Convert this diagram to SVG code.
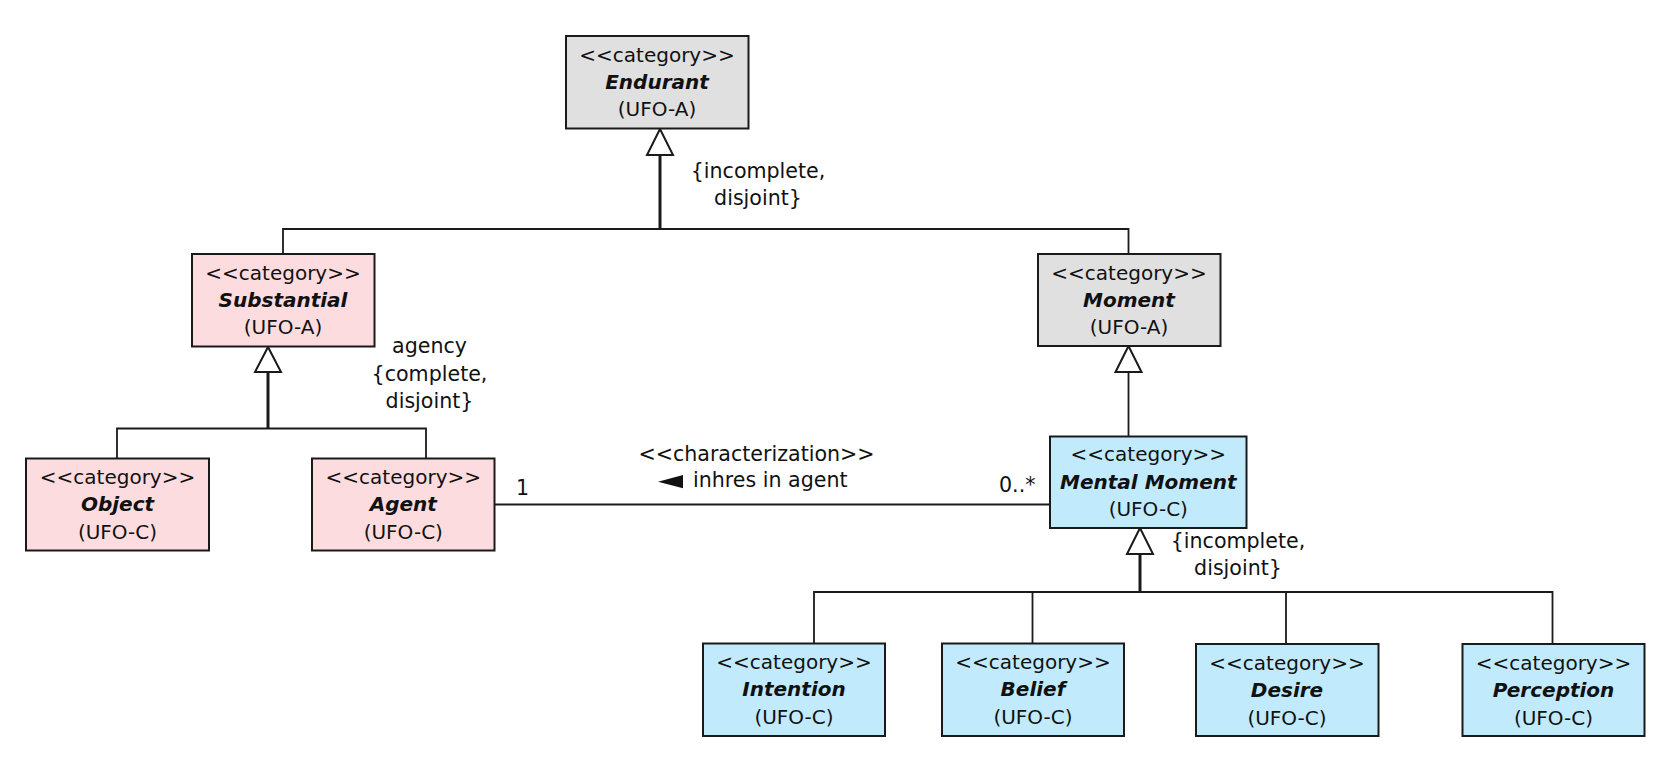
<svg xmlns="http://www.w3.org/2000/svg" width="1666" height="776" viewBox="0 0 1666 776">
<style>
  text { font-family: "DejaVu Sans", "Liberation Sans", sans-serif; font-size: 20px; fill: #111; }
  .c { text-anchor: middle; }
  .name { font-weight: bold; font-style: italic; }
  .lbl { font-size: 20.6px; }
  .box { stroke: #1a1a1a; stroke-width: 2; }
  .gray { fill: #e0e0e0; }
  .pink { fill: #fddce0; }
  .blue { fill: #c1ebfd; }
  .thin { stroke: #1a1a1a; stroke-width: 1.8; fill: none; }
  .thick { stroke: #1a1a1a; stroke-width: 3; fill: none; }
  .gen { fill: #ffffff; stroke: #1a1a1a; stroke-width: 2; stroke-linejoin: miter; }
</style>
<rect x="0" y="0" width="1666" height="776" fill="#ffffff"/>

<g id="connectors">
  <!-- Endurant generalization set -->
  <polyline class="thin" points="283,254 283,229 1128.5,229 1128.5,254"/>
  <line class="thick" x1="660" y1="155" x2="660" y2="229"/>
  <polygon class="gen" points="660,129 647,155 673,155"/>
  <!-- Substantial generalization set -->
  <polyline class="thin" points="117,458 117,428.5 426,428.5 426,458"/>
  <line class="thick" x1="268" y1="372" x2="268" y2="428.5"/>
  <polygon class="gen" points="268,347 255,372 281,372"/>
  <!-- Moment -> Mental Moment -->
  <line class="thin" x1="1128.5" y1="372" x2="1128.5" y2="436"/>
  <polygon class="gen" points="1128.5,346 1115.5,372 1141.5,372"/>
  <!-- Mental Moment generalization set -->
  <polyline class="thin" points="814,643.5 814,592 1552.5,592 1552.5,644"/>
  <line class="thin" x1="1032.5" y1="592" x2="1032.5" y2="643.5"/>
  <line class="thin" x1="1286" y1="592" x2="1286" y2="644"/>
  <line class="thick" x1="1140" y1="554" x2="1140" y2="592"/>
  <polygon class="gen" points="1140,528 1127,554 1153,554"/>
  <!-- characterization association -->
  <line class="thin" x1="495" y1="504.5" x2="1050" y2="504.5"/>
  <polygon points="658,481.7 683,475 683,488.3" fill="#111"/>
  <text class="c lbl" x="756.5" y="460.5">&lt;&lt;characterization&gt;&gt;</text>
  <text class="lbl" x="693" y="487">inhres in agent</text>
  <text class="lbl" x="516" y="495">1</text>
  <text class="lbl" x="999" y="492">0..*</text>
  <!-- generalization set labels -->
  <text class="c lbl" x="758" y="178">{incomplete,</text>
  <text class="c lbl" x="758" y="205">disjoint}</text>
  <text class="c lbl" x="429.5" y="353">agency</text>
  <text class="c lbl" x="429.5" y="380.5">{complete,</text>
  <text class="c lbl" x="429.5" y="407.5">disjoint}</text>
  <text class="c lbl" x="1238" y="548">{incomplete,</text>
  <text class="c lbl" x="1238" y="575">disjoint}</text>
</g>

<g id="endurant">
  <rect class="box gray" x="566" y="36" width="182.5" height="92.5"/>
  <text class="c" x="657" y="61.5">&lt;&lt;category&gt;&gt;</text>
  <text class="c name" x="657" y="88.5">Endurant</text>
  <text class="c" x="657" y="116">(UFO-A)</text>
</g>

<g id="substantial">
  <rect class="box pink" x="192" y="254" width="182.5" height="92.5"/>
  <text class="c" x="283" y="279.5">&lt;&lt;category&gt;&gt;</text>
  <text class="c name" x="283" y="306.5">Substantial</text>
  <text class="c" x="283" y="334">(UFO-A)</text>
</g>

<g id="moment">
  <rect class="box gray" x="1038" y="254" width="182.5" height="92"/>
  <text class="c" x="1129" y="279.5">&lt;&lt;category&gt;&gt;</text>
  <text class="c name" x="1129" y="306.5">Moment</text>
  <text class="c" x="1129" y="334">(UFO-A)</text>
</g>

<g id="object">
  <rect class="box pink" x="26" y="458.5" width="183" height="92"/>
  <text class="c" x="117.5" y="483.5">&lt;&lt;category&gt;&gt;</text>
  <text class="c name" x="117.5" y="510.5">Object</text>
  <text class="c" x="117.5" y="538.5">(UFO-C)</text>
</g>

<g id="agent">
  <rect class="box pink" x="312" y="458.5" width="182.5" height="92"/>
  <text class="c" x="403.3" y="483.5">&lt;&lt;category&gt;&gt;</text>
  <text class="c name" x="403.3" y="510.5">Agent</text>
  <text class="c" x="403.3" y="538.5">(UFO-C)</text>
</g>

<g id="mental-moment">
  <rect class="box blue" x="1050" y="436.5" width="196.5" height="91.5"/>
  <text class="c" x="1148.3" y="461">&lt;&lt;category&gt;&gt;</text>
  <text class="c name" x="1148.3" y="488.5">Mental Moment</text>
  <text class="c" x="1148.3" y="516">(UFO-C)</text>
</g>

<g id="intention">
  <rect class="box blue" x="703" y="643.5" width="182" height="92.5"/>
  <text class="c" x="794" y="669">&lt;&lt;category&gt;&gt;</text>
  <text class="c name" x="794" y="696">Intention</text>
  <text class="c" x="794" y="724">(UFO-C)</text>
</g>

<g id="belief">
  <rect class="box blue" x="942" y="643.5" width="182" height="92.5"/>
  <text class="c" x="1033" y="669">&lt;&lt;category&gt;&gt;</text>
  <text class="c name" x="1033" y="696">Belief</text>
  <text class="c" x="1033" y="724">(UFO-C)</text>
</g>

<g id="desire">
  <rect class="box blue" x="1196" y="644" width="182.5" height="92"/>
  <text class="c" x="1287" y="669.5">&lt;&lt;category&gt;&gt;</text>
  <text class="c name" x="1287" y="696.5">Desire</text>
  <text class="c" x="1287" y="724.5">(UFO-C)</text>
</g>

<g id="perception">
  <rect class="box blue" x="1462.5" y="644" width="182" height="92"/>
  <text class="c" x="1553.5" y="669.5">&lt;&lt;category&gt;&gt;</text>
  <text class="c name" x="1553.5" y="696.5">Perception</text>
  <text class="c" x="1553.5" y="724.5">(UFO-C)</text>
</g>
</svg>
